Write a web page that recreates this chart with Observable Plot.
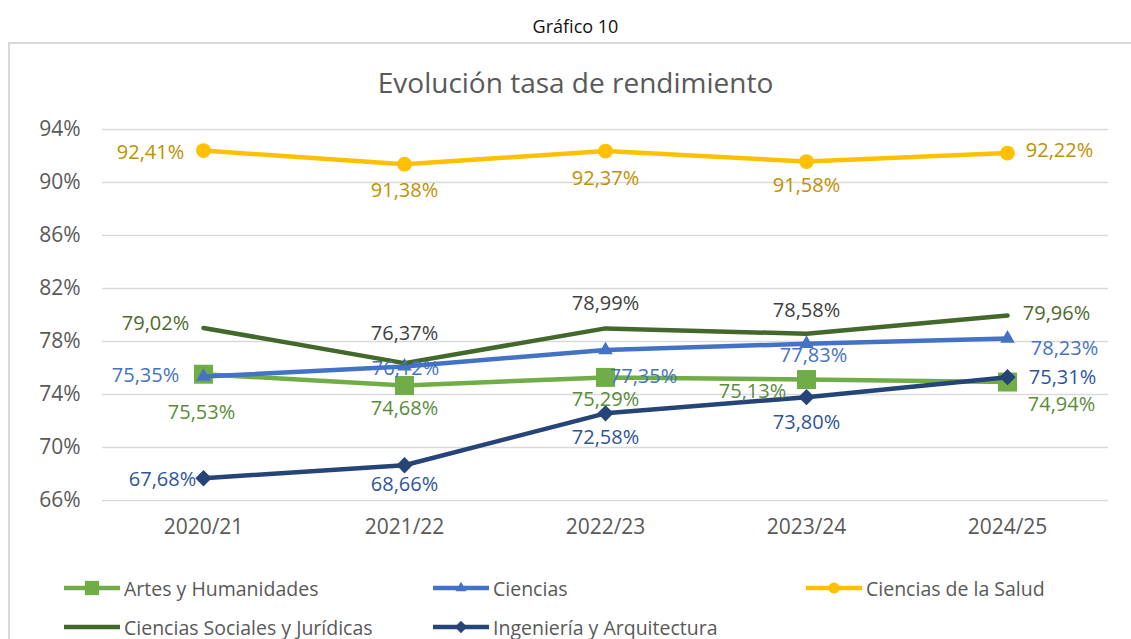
<!DOCTYPE html>
<html>
<head>
<meta charset="utf-8">
<script src="https://cdn.jsdelivr.net/npm/d3@7"></script>
<script src="https://cdn.jsdelivr.net/npm/@observablehq/plot@0.6"></script>
<style>
  html, body { margin: 0; padding: 0; background: #fff; }
  body { width: 1131px; height: 639px; overflow: hidden; position: relative; font-family: "Open Sans", sans-serif; }
  #fig { position: absolute; left: 0; top: 10px; width: 1151px; text-align: center; font-size: 18px; color: #111; line-height: 32px; }
  #frame { position: absolute; left: 8px; top: 42px; width: 1160px; height: 700px; border: 2px solid #d9d9d9; box-sizing: border-box; }
  #title { position: absolute; left: 0; top: 63px; width: 1151px; text-align: center; font-size: 28px; color: #595959; line-height: 38px; }
  #chart { position: absolute; left: 0; top: 42px; }
  .leg { position: absolute; display: flex; align-items: center; font-size: 19.5px; color: #595959; white-space: nowrap; }
  .leg svg { margin-right: 3px; }
</style>
</head>
<body>
<div id="fig">Gráfico 10</div>
<div id="frame"></div>
<div id="title">Evolución tasa de rendimiento</div>
<div id="chart"></div>
<div id="legend"></div>
<script>
// ---- data ----
const years = ["2020/21", "2021/22", "2022/23", "2023/24", "2024/25"];
const seriesNames = ["Artes y Humanidades", "Ciencias", "Ciencias de la Salud", "Ciencias Sociales y Jurídicas", "Ingeniería y Arquitectura"];
const artes = [75.53, 74.68, 75.29, 75.13, 74.94];
const ciencias = [75.35, 76.12, 77.35, 77.83, 78.23];
const salud = [92.41, 91.38, 92.37, 91.58, 92.22];
const sociales = [79.02, 76.37, 78.99, 78.58, 79.96];
const ingenieria = [67.68, 68.66, 72.58, 73.80, 75.31];
const yTicks = [66, 70, 74, 78, 82, 86, 90, 94];

// ---- styles ----
const lineColors = ["#70AD47", "#4472C4", "#FFC000", "#43682B", "#264478"];
const labelColors = [
  ["#5B8C3A", "#5B8C3A", "#5B8C3A", "#5B8C3A", "#5B8C3A"],
  ["#4472C4", "#4472C4", "#4472C4", "#4472C4", "#4472C4"],
  ["#BF9000", "#BF9000", "#BF9000", "#BF9000", "#BF9000"],
  ["#4E6B2E", "#404040", "#404040", "#404040", "#4E6B2E"],
  ["#2F5597", "#2F5597", "#2F5597", "#2F5597", "#2F5597"]
];
const symbols = ["square", "triangle", "circle", null, "diamond2"];
const symbolR = [10.7, 5.4, 7.4, 0, 6.4];
// label offsets (dx, dy) in pixels, mimicking the Excel data-label placement
const labelOffsets = [
  [[-2, 38], [0, 23], [0, 22], [-54, 12], [54, 23]],
  [[-58, -1], [1, 2], [38, 26], [7, 12], [57, 10]],
  [[-53, 2], [0, 26], [0, 27], [0, 24], [52, -2]],
  [[-48, -4], [0, -30], [0, -25], [0, -23], [49, -2]],
  [[-41, 1], [0, 19], [0, 24], [0, 25], [55, 0]]
];

const allSeries = [artes, ciencias, salud, sociales, ingenieria];
const fmt = v => v.toFixed(2).replace(".", ",") + "%";

const marks = [
  Plot.gridY(yTicks, {stroke: "#d9d9d9", strokeOpacity: 1, strokeWidth: 1.5}),
  Plot.axisY(yTicks, {tickSize: 0, tickPadding: 22, tickFormat: d => d + "%", fontSize: 21, fill: "#595959", label: null}),
  Plot.axisX({tickSize: 0, tickPadding: 19, fontSize: 21, fill: "#595959", label: null})
];

allSeries.forEach((vals, s) => {
  const data = years.map((y, i) => ({year: y, value: vals[i]}));
  marks.push(Plot.line(data, {x: "year", y: "value", stroke: lineColors[s], strokeWidth: 4.5, curve: "linear"}));
  if (symbols[s]) {
    marks.push(Plot.dot(data, {x: "year", y: "value", symbol: symbols[s], r: symbolR[s], fill: lineColors[s], stroke: lineColors[s], strokeWidth: s === 4 ? 1.5 : 0}));
  }
});

allSeries.forEach((vals, s) => {
  years.forEach((y, i) => {
    const [dx, dy] = labelOffsets[s][i];
    marks.push(Plot.text([{year: y, value: vals[i]}], {
      x: "year", y: "value", text: d => fmt(d.value),
      dx, dy, fill: labelColors[s][i], fontSize: 20, textAnchor: "middle"
    }));
  });
});

const chart = Plot.plot({
  width: 1131,
  height: 520,
  marginLeft: 102,
  marginRight: 23,
  marginTop: 87,
  marginBottom: 62,
  style: {fontFamily: "Open Sans", background: "transparent", overflow: "visible"},
  x: {type: "point", domain: years, padding: 0.5, label: null},
  y: {domain: [66, 94], label: null},
  marks
});
document.getElementById("chart").appendChild(chart);

// ---- legend ----
const legendPos = [[63, 588], [432, 588], [805, 588], [63, 627], [432, 627]];
const legend = document.getElementById("legend");
seriesNames.forEach((name, s) => {
  const div = document.createElement("div");
  div.className = "leg";
  div.style.left = legendPos[s][0] + "px";
  div.style.top = (legendPos[s][1] - 14) + "px";
  div.style.height = "28px";
  const sw = d3.create("svg").attr("width", 58).attr("height", 20);
  sw.append("line").attr("x1", 1).attr("x2", 57).attr("y1", 10).attr("y2", 10)
    .attr("stroke", lineColors[s]).attr("stroke-width", 4.5);
  if (symbols[s]) {
    const symMap = {square: d3.symbolSquare, triangle: d3.symbolTriangle, circle: d3.symbolCircle, diamond2: d3.symbolDiamond2};
    sw.append("path").attr("transform", "translate(29,10)")
      .attr("d", d3.symbol(symMap[symbols[s]], Math.PI * (symbolR[s] * 0.75) ** 2)())
      .attr("fill", lineColors[s]).attr("stroke", lineColors[s]).attr("stroke-width", s === 4 ? 1.2 : 0);
  }
  div.appendChild(sw.node());
  const span = document.createElement("span");
  span.textContent = name;
  div.appendChild(span);
  legend.appendChild(div);
});
</script>
</body>
</html>
